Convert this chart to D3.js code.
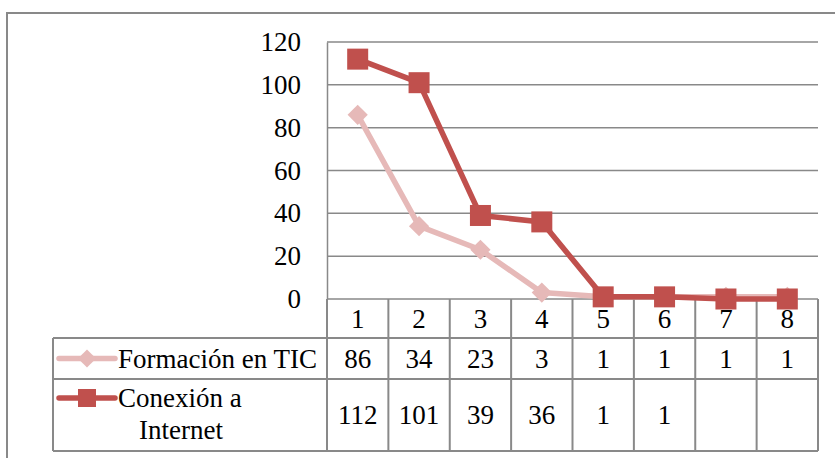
<!DOCTYPE html>
<html>
<head>
<meta charset="utf-8">
<script src="https://cdn.jsdelivr.net/npm/d3@7"></script>
<style>
  body { margin: 0; background: #fff; }
</style>
</head>
<body>
<div id="chart"></div>
<script>
var categories = ["1", "2", "3", "4", "5", "6", "7", "8"];
var formacion = [86, 34, 23, 3, 1, 1, 1, 1];
var conexion = [112, 101, 39, 36, 1, 1, null, null];
var yTicks = [0, 20, 40, 60, 80, 100, 120];
var seriesNames = ["Formación en TIC", "Conexión a", "Internet"];

var W = 835, H = 458;
var plot = { left: 327, right: 818, top: 42, bottom: 299 };
var rows = { cat: 338, r1: 379, r2: 451 };
var legendLeft = 53;
var gray = "#898989";
var fontFam = "'Liberation Serif', serif";
var fontSize = 27;

var svg = d3.select("#chart").append("svg")
  .attr("width", W).attr("height", H);

// outer border (right and bottom run off the picture)
svg.append("rect")
  .attr("x", 7).attr("y", 13)
  .attr("width", 900).attr("height", 500)
  .attr("fill", "none").attr("stroke", gray).attr("stroke-width", 2);

var x = d3.scaleBand().domain(categories).range([plot.left, plot.right]);
var y = d3.scaleLinear().domain([0, 120]).range([plot.bottom, plot.top]);

// gridlines
svg.append("g").selectAll("line").data(yTicks).join("line")
  .attr("x1", plot.left).attr("x2", plot.right)
  .attr("y1", function (d) { return y(d); })
  .attr("y2", function (d) { return y(d); })
  .attr("stroke", gray).attr("stroke-width", 1.5);

// y axis
var yAxis = svg.append("g")
  .attr("transform", "translate(" + plot.left + ",0)")
  .call(d3.axisLeft(y).tickValues(yTicks).tickSize(0).tickPadding(26));
yAxis.select(".domain").attr("stroke", gray).attr("stroke-width", 1.5);
yAxis.selectAll("text")
  .style("font-family", fontFam)
  .style("font-size", fontSize + "px")
  .attr("fill", "#000");

// table lines
var tg = svg.append("g").attr("stroke", gray).attr("stroke-width", 2).attr("fill", "none");
var colEdges = categories.map(function (c) { return x(c); }).concat([plot.right]);
tg.selectAll("line.v").data(colEdges).join("line").attr("class", "v")
  .attr("x1", function (d) { return d; }).attr("x2", function (d) { return d; })
  .attr("y1", plot.bottom).attr("y2", rows.r2);
[rows.cat, rows.r1, rows.r2].forEach(function (ry) {
  tg.append("line").attr("x1", legendLeft).attr("x2", plot.right)
    .attr("y1", ry).attr("y2", ry);
});
tg.append("line").attr("x1", legendLeft).attr("x2", legendLeft)
  .attr("y1", rows.cat).attr("y2", rows.r2);

function label(sel) {
  return sel.style("font-family", fontFam).style("font-size", fontSize + "px")
    .attr("fill", "#000").attr("dy", "0.35em");
}

// category labels
label(svg.append("g").selectAll("text").data(categories).join("text")
  .attr("x", function (d) { return x(d) + x.bandwidth() / 2; })
  .attr("y", (plot.bottom + rows.cat) / 2)
  .attr("text-anchor", "middle")
  .text(function (d) { return d; }));

// table values
function valueRow(vals, cy) {
  label(svg.append("g").selectAll("text").data(vals).join("text")
    .attr("x", function (d, i) { return x(categories[i]) + x.bandwidth() / 2; })
    .attr("y", cy)
    .attr("text-anchor", "middle")
    .text(function (d) { return d == null ? "" : d; }));
}
valueRow(formacion, (rows.cat + rows.r1) / 2);
valueRow(conexion, (rows.r1 + rows.r2) / 2);

// lines + markers
var c1 = "#E6B9B8", c2 = "#C0504D";
var cx = function (d, i) { return x(categories[i]) + x.bandwidth() / 2; };
var line = d3.line().x(cx).y(function (d) { return y(d == null ? 0 : d); });

svg.append("path").datum(formacion)
  .attr("d", line).attr("fill", "none")
  .attr("stroke", c1).attr("stroke-width", 5.5).attr("stroke-linejoin", "round");
svg.append("g").selectAll("path").data(formacion).join("path")
  .attr("d", d3.symbol().type(d3.symbolDiamond2).size(260))
  .attr("transform", function (d, i) { return "translate(" + cx(d, i) + "," + y(d) + ")"; })
  .attr("fill", c1);

svg.append("path").datum(conexion)
  .attr("d", line).attr("fill", "none")
  .attr("stroke", c2).attr("stroke-width", 5.5).attr("stroke-linejoin", "round");
svg.append("g").selectAll("rect").data(conexion).join("rect")
  .attr("x", function (d, i) { return cx(d, i) - 10.5; })
  .attr("y", function (d) { return y(d == null ? 0 : d) - 10.5; })
  .attr("width", 21).attr("height", 21)
  .attr("fill", c2);

// legend keys
var r1y = (rows.cat + rows.r1) / 2;
svg.append("line").attr("x1", 59).attr("x2", 115).attr("y1", r1y).attr("y2", r1y)
  .attr("stroke", c1).attr("stroke-width", 5.5).attr("stroke-linecap", "round");
svg.append("path").attr("d", d3.symbol().type(d3.symbolDiamond2).size(210))
  .attr("transform", "translate(87," + r1y + ")").attr("fill", c1);
label(svg.append("text").attr("x", 118).attr("y", r1y)
  .text(seriesNames[0]));

var r2y = 398;
svg.append("line").attr("x1", 59).attr("x2", 115).attr("y1", r2y).attr("y2", r2y)
  .attr("stroke", c2).attr("stroke-width", 5.5).attr("stroke-linecap", "round");
svg.append("rect").attr("x", 78).attr("y", r2y - 9).attr("width", 18).attr("height", 18)
  .attr("fill", c2);
label(svg.append("text").attr("x", 118).attr("y", r2y)
  .text(seriesNames[1]));
label(svg.append("text").attr("x", 181).attr("y", 430)
  .attr("text-anchor", "middle").text(seriesNames[2]));
</script>
</body>
</html>
